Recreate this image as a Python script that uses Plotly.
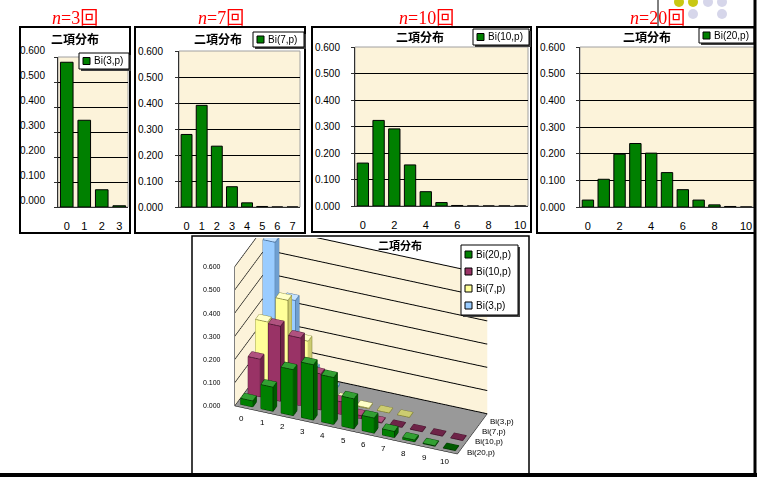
import plotly.graph_objects as go

W, H = 765, 478

# Binomial probabilities Bi(n, p) for k = 0, 1, 2, ...
k3 = [0, 1, 2, 3]
bi3 = [0.579, 0.347, 0.069, 0.005]
k7 = [0, 1, 2, 3, 4, 5, 6, 7]
bi7 = [0.279, 0.391, 0.234, 0.078, 0.016, 0.002, 0.000, 0.000]
k10 = [0, 1, 2, 3, 4, 5, 6, 7, 8, 9, 10]
bi10 = [0.162, 0.323, 0.291, 0.155, 0.054, 0.013, 0.002, 0.000, 0.000, 0.000, 0.000]
k20 = [0, 1, 2, 3, 4, 5, 6, 7, 8, 9, 10]
bi20 = [0.026, 0.104, 0.198, 0.238, 0.202, 0.129, 0.065, 0.026, 0.008, 0.002, 0.000]

series_names = ["Bi(20,p)", "Bi(10,p)", "Bi(7,p)", "Bi(3,p)"]
n_labels = ["3", "7", "10", "20"]
title_text = "二項分布"
value_ticks = [0.0, 0.1, 0.2, 0.3, 0.4, 0.5, 0.6]

GREEN = "#008000"
CREAM = "#fcf3da"
JP = "Noto Sans CJK JP"
SANS = "Liberation Sans, Arial"


def fx(x):
    return x / W


def fy(y):
    return 1 - y / H


fig = go.Figure()
shapes = []
annotations = []


def legend_box(x0, y0, w, h, entries, row_h):
    """Excel-style legend: framed box, colour swatch and label per row."""
    shapes.append(dict(type="rect", xref="paper", yref="paper",
                       x0=fx(x0 + 2), x1=fx(x0 + w + 2), y0=fy(y0 + h + 2), y1=fy(y0 + 2),
                       fillcolor="#404040", line=dict(width=0)))
    shapes.append(dict(type="rect", xref="paper", yref="paper",
                       x0=fx(x0), x1=fx(x0 + w), y0=fy(y0 + h), y1=fy(y0),
                       fillcolor="#ffffff", line=dict(color="#000000", width=1)))
    for r, (label, col) in enumerate(entries):
        cy = y0 + row_h / 2 + r * row_h + (h - row_h * len(entries)) / 2
        shapes.append(dict(type="rect", xref="paper", yref="paper",
                           x0=fx(x0 + 4), x1=fx(x0 + 11), y0=fy(cy + 3.5), y1=fy(cy - 3.5),
                           fillcolor=col, line=dict(color="#000000", width=1)))
        annotations.append(dict(x=fx(x0 + 13), y=fy(cy), xref="paper", yref="paper",
                                xanchor="left", yanchor="middle", text=label, showarrow=False,
                                font=dict(family=SANS, size=10, color="#000000")))


# ---- four small 2D column charts ----
panels = [
    dict(k=k3, v=bi3, name="Bi(3,p)", plot=(58, 128, 57, 207), box=(20, 130, 27, 233),
         title=(75, 38), leg=(79, 53, 50, 16), tick=k3, shift=-7, stand=10, nlab=75),
    dict(k=k7, v=bi7, name="Bi(7,p)", plot=(179, 300, 51, 207), box=(135, 305, 27, 233),
         title=(218, 38), leg=(253, 32, 51, 15), tick=k7, shift=0, stand=13, nlab=221),
    dict(k=k10, v=bi10, name="Bi(10,p)", plot=(355, 528, 47, 206), box=(312, 531, 27, 232),
         title=(420, 37), leg=(473, 29, 56, 16), tick=[0, 2, 4, 6, 8, 10], shift=0, stand=12, nlab=426),
    dict(k=k20, v=bi20, name="Bi(20,p)", plot=(580, 754, 47, 207), box=(537, 755, 27, 233),
         title=(647, 37), leg=(699, 28, 55, 15), tick=[0, 2, 4, 6, 8, 10], shift=0, stand=12, nlab=657),
]

for i, p in enumerate(panels, start=1):
    xa = "x" if i == 1 else f"x{i}"
    ya = "y" if i == 1 else f"y{i}"
    x0, x1, y0, y1 = p["plot"]
    # plot area fill and frame
    shapes.append(dict(type="rect", xref="paper", yref="paper",
                       x0=fx(x0), x1=fx(x1), y0=fy(y1), y1=fy(y0),
                       line=dict(color="#a0a0a0", width=1), layer="below",
                       fillcolor=CREAM))
    fig.add_trace(go.Bar(
        x=p["k"], y=p["v"], name=p["name"], xaxis=xa, yaxis=ya, showlegend=False,
        marker=dict(color=GREEN, line=dict(color="#000000", width=1)),
        width=0.72, hoverinfo="skip",
    ))
    axkey = "xaxis" if i == 1 else f"xaxis{i}"
    aykey = "yaxis" if i == 1 else f"yaxis{i}"
    fig.layout[axkey] = dict(
        domain=[fx(x0), fx(x1)], anchor=ya, range=[-0.5, len(p["k"]) - 0.5],
        tickvals=p["tick"], ticks="", showgrid=False, zeroline=False,
        showline=True, linecolor="#303030", linewidth=1, automargin=False,
        tickfont=dict(family=SANS, size=11, color="#000000"), ticklabelstandoff=9,
        fixedrange=True,
    )
    fig.layout[aykey] = dict(
        domain=[fy(y1), fy(y0)], anchor=xa, range=[0, 0.6],
        tickvals=value_ticks, tickformat=".3f", ticks="outside", ticklen=3,
        tickcolor="#303030", showgrid=True, gridcolor="#000000", gridwidth=1,
        zeroline=False, showline=True, linecolor="#303030", linewidth=1,
        tickfont=dict(family=SANS, size=10, color="#000000"), automargin=False,
        ticklabelstandoff=p["stand"] - 3, ticklabelshift=p["shift"],
        fixedrange=True,
    )
    # chart frame
    bx0, bx1, by0, by1 = p["box"]
    shapes.append(dict(type="rect", xref="paper", yref="paper",
                       x0=fx(bx0), x1=fx(bx1), y0=fy(by1), y1=fy(by0),
                       line=dict(color="#000000", width=2)))
    # chart title
    tx, ty = p["title"]
    annotations.append(dict(x=fx(tx), y=fy(ty), xref="paper", yref="paper",
                            xanchor="center", yanchor="middle",
                            text=f"<b>{title_text}</b>", showarrow=False,
                            font=dict(family=JP, size=12, color="#000000")))
    # n label above the chart
    annotations.append(dict(x=fx(p["nlab"]), y=fy(16), xref="paper", yref="paper",
                            xanchor="center", yanchor="middle",
                            text=f"<i>n</i>={n_labels[i-1]}<span style='font-family:{JP}'>回</span>",
                            showarrow=False,
                            font=dict(family="Liberation Serif, Times New Roman", size=18, color="#ff0000")))
    lx, ly, lw, lh = p["leg"]
    legend_box(lx, ly, lw, lh, [(p["name"], GREEN)], lh)

# ---- 3D column chart of all four distributions ----
series_vals = [bi20, bi10, bi7, bi3]
series_k = [k20, k10, k7, k3]
series_cols = ["#008000", "#993366", "#ffff99", "#99ccff"]
top_cols = ["#33a033", "#b0527f", "#ffffc8", "#c4e2ff"]
side_cols = ["#005a00", "#6e2448", "#cccc70", "#6f9fd0"]
edge_cols = ["#003000", "#3c1026", "#7a7a30", "#3a5f8a"]
BW, BD = 0.6, 0.5


def box_mesh(ks, vs, s):
    xs, ys, zs, ii, jj, kk = [], [], [], [], [], []
    faces = []
    ex, ey, ez = [], [], []
    for c, v in zip(ks, vs):
        b = len(xs)
        a0, a1 = c - BW / 2, c + BW / 2
        d0, d1 = s - BD / 2, s + BD / 2
        for (px_, py_, pz_) in [(a0, d0, 0), (a1, d0, 0), (a1, d1, 0), (a0, d1, 0),
                                (a0, d0, v), (a1, d0, v), (a1, d1, v), (a0, d1, v)]:
            xs.append(px_); ys.append(py_); zs.append(pz_)
        tri = [
            (4, 5, 6, "top"), (4, 6, 7, "top"),
            (0, 1, 5, "front"), (0, 5, 4, "front"),
            (1, 2, 6, "side"), (1, 6, 5, "side"),
            (2, 3, 7, "back"), (2, 7, 6, "back"),
            (3, 0, 4, "left"), (3, 4, 7, "left"),
            (0, 1, 2, "bot"), (0, 2, 3, "bot"),
        ]
        for t in tri:
            ii.append(b + t[0]); jj.append(b + t[1]); kk.append(b + t[2])
            faces.append(t[3])
        for (p0, p1) in [(4, 5), (5, 6), (6, 7), (7, 4), (0, 1), (1, 2), (0, 4), (1, 5), (2, 6)]:
            ex += [xs[b + p0], xs[b + p1], None]
            ey += [ys[b + p0], ys[b + p1], None]
            ez += [zs[b + p0], zs[b + p1], None]
    return xs, ys, zs, ii, jj, kk, faces, ex, ey, ez


for s in range(3, -1, -1):
    xs, ys, zs, ii, jj, kk, faces, ex, ey, ez = box_mesh(series_k[s], series_vals[s], s)
    fmap = {"top": top_cols[s], "front": series_cols[s], "side": side_cols[s],
            "back": series_cols[s], "left": series_cols[s], "bot": side_cols[s]}
    fig.add_trace(go.Mesh3d(
        x=xs, y=ys, z=zs, i=ii, j=jj, k=kk, facecolor=[fmap[f] for f in faces],
        flatshading=True, scene="scene", showlegend=False, hoverinfo="skip",
        lighting=dict(ambient=1.0, diffuse=0.0, specular=0.0, fresnel=0.0, roughness=1.0),
    ))
    fig.add_trace(go.Scatter3d(
        x=ex, y=ey, z=ez, mode="lines", line=dict(color=edge_cols[s], width=1.5),
        scene="scene", showlegend=False, hoverinfo="skip",
    ))

legend_box(461, 245, 57, 70, list(zip(series_names, series_cols)), 17)

# horizontal axis labels of the 3D chart
scene_ann = []
for v in value_ticks:
    scene_ann.append(dict(x=-0.5, y=-0.5, z=v, text=f"{v:.3f}", showarrow=False,
                          xanchor="right", yanchor="middle", xshift=-12,
                          font=dict(family=SANS, size=7, color="#000000")))
for c in k10:
    scene_ann.append(dict(x=c, y=-0.5, z=0, text=str(c), showarrow=False,
                          xanchor="center", yanchor="middle", xshift=-3, yshift=-10,
                          font=dict(family=SANS, size=8, color="#000000")))
for s, nm in enumerate(series_names):
    scene_ann.append(dict(x=10.5, y=s, z=0, text=nm, showarrow=False,
                          xanchor="left", yanchor="middle", xshift=4, yshift=-3,
                          font=dict(family=SANS, size=8, color="#000000")))

axis3d = dict(showspikes=False, zeroline=False, title=dict(text=""), showticklabels=False,
              ticks="")
AR = 2.05
fig.update_layout(scene=dict(
    domain=dict(x=[fx(194), fx(528)], y=[fy(472), fy(238)]),
    xaxis=dict(axis3d, range=[-0.5, 10.5], tickvals=k10, showgrid=False,
               showbackground=True, backgroundcolor=CREAM, showline=True,
               linecolor="#000000"),
    yaxis=dict(axis3d, range=[-0.5, 3.5], tickvals=[0, 1, 2, 3],
               showgrid=False, showbackground=True, backgroundcolor=CREAM,
               showline=True, linecolor="#000000"),
    zaxis=dict(axis3d, range=[0, 0.6], tickvals=value_ticks,
               showgrid=True, gridcolor="#000000", showbackground=True,
               backgroundcolor="#999999", showline=True, linecolor="#000000"),
    aspectmode="manual", aspectratio=dict(x=1.0 * AR, y=0.335 * AR, z=0.69 * AR),
    camera=dict(eye=dict(x=0.40 * 1.6, y=-1.0 * 1.6, z=0.597 * 1.6),
                center=dict(x=0, y=0, z=-0.15), up=dict(x=0, y=0, z=1),
                projection=dict(type="orthographic")),
    bgcolor="rgba(0,0,0,0)",
    annotations=scene_ann,
))

# 3D chart frame and title
shapes.append(dict(type="rect", xref="paper", yref="paper", x0=fx(192), x1=fx(529),
                   y0=fy(474), y1=fy(236), line=dict(color="#000000", width=1.5)))
annotations.append(dict(x=fx(400), y=fy(245), xref="paper", yref="paper",
                        xanchor="center", yanchor="middle",
                        text=f"<b>{title_text}</b>", showarrow=False,
                        font=dict(family=JP, size=11, color="#000000")))

# page frame: right border, bottom rule and short divider at the top
shapes.append(dict(type="line", xref="paper", yref="paper", x0=fx(755), x1=fx(755),
                   y0=fy(476), y1=1, line=dict(color="#000000", width=3)))
shapes.append(dict(type="line", xref="paper", yref="paper", x0=0, x1=fx(757),
                   y0=fy(475), y1=fy(475), line=dict(color="#000000", width=4)))
shapes.append(dict(type="line", xref="paper", yref="paper", x0=fx(658), x1=fx(658),
                   y0=fy(27), y1=1, line=dict(color="#000000", width=1)))

# decorative dots in the top-right corner
for (cx, cy, col) in [(679, 2, "#c8c814"), (693, 2, "#c8c814"), (708, 2, "#d6d6ea"),
                      (722, 2, "#d6d6ea"), (693, 14, "#d6d6ea"), (722, 14, "#d6d6ea")]:
    shapes.append(dict(type="circle", xref="paper", yref="paper",
                       x0=fx(cx - 5), x1=fx(cx + 5), y0=fy(cy + 5), y1=fy(cy - 5),
                       fillcolor=col, line=dict(width=0), layer="below"))

fig.update_layout(
    width=W, height=H, margin=dict(l=0, r=0, t=0, b=0, autoexpand=False),
    paper_bgcolor="#ffffff", plot_bgcolor="rgba(0,0,0,0)",
    shapes=shapes, annotations=annotations, showlegend=False,
)

fig.write_html("out.html")
